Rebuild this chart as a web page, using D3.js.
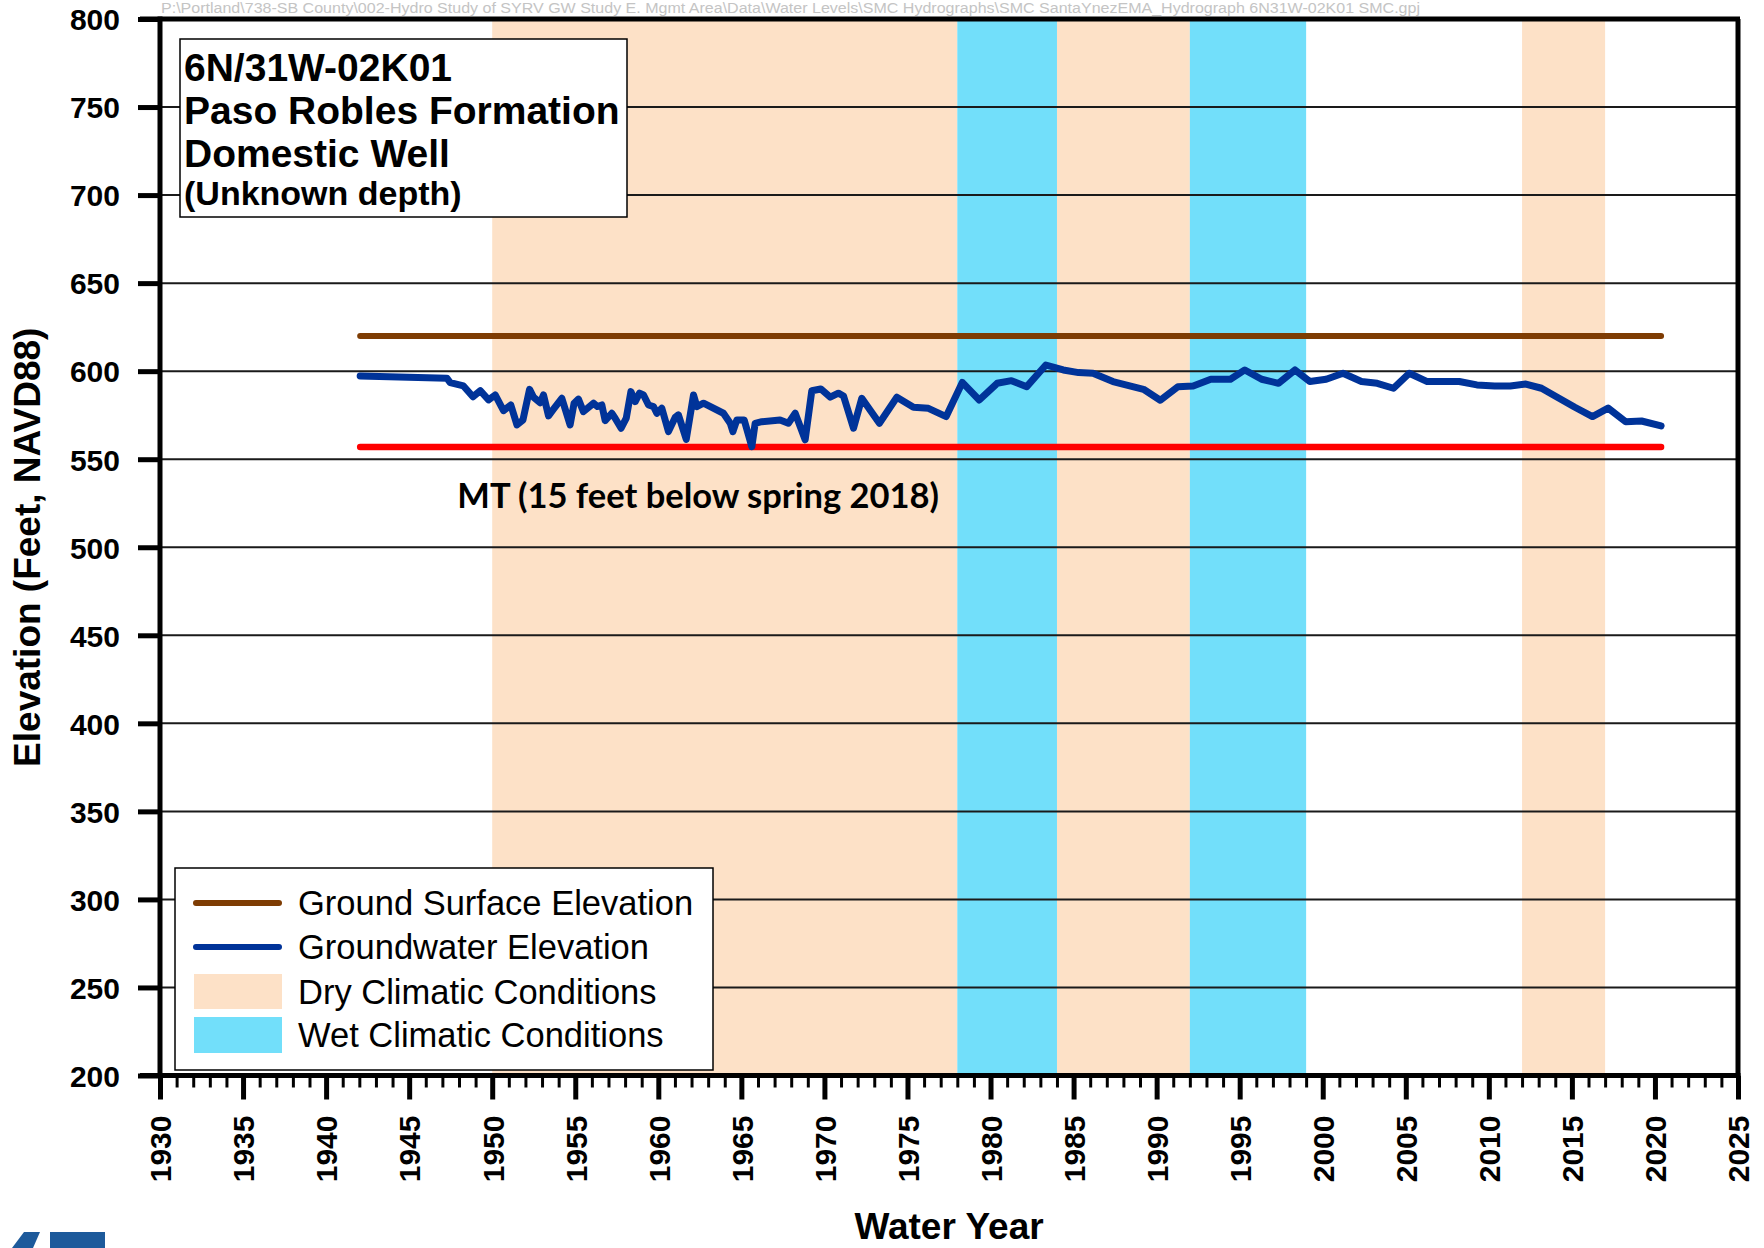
<!DOCTYPE html>
<html>
<head>
<meta charset="utf-8">
<script src="https://cdn.jsdelivr.net/npm/d3@7"></script>
<style>
  body { margin: 0; background: #fff; }
  svg { display: block; font-family: 'Liberation Sans', Arial, sans-serif; }
  .tick_lbl { font-size: 30px; font-weight: bold; fill: #000; }
  .axis_label { font-size: 37px; font-weight: bold; fill: #000; }
  .title_txt { font-weight: bold; fill: #000; }
  .legend_txt { font-size: 34.5px; fill: #000; }
</style>
</head>
<body>
<svg id="hydro"></svg>
<script>
// x/y tick values
const xMajorTicks = [1930, 1935, 1940, 1945, 1950, 1955, 1960, 1965, 1970, 1975, 1980,
                     1985, 1990, 1995, 2000, 2005, 2010, 2015, 2020, 2025];
const yTicks = [200, 250, 300, 350, 400, 450, 500, 550, 600, 650, 700, 750, 800];

// climate periods (water years)
const dryPeriods = [[1950, 1978], [1984, 1992], [2012, 2017]];
const wetPeriods = [[1978, 1984], [1992, 1999]];

// reference lines
const refYears = [1942.05, 2020.37];
const groundSurfaceElev = [620, 620];
const mtElev = [557, 557];

const gwYears = [1942.05, 1947.27, 1947.47, 1948.27, 1948.84, 1949.28, 1949.78, 1950.18, 1950.68, 1951.12,
  1951.49, 1951.85, 1952.25, 1952.49, 1952.89, 1953.09, 1953.39, 1953.69, 1954.19, 1954.69,
  1954.93, 1955.19, 1955.49, 1956.10, 1956.34, 1956.60, 1956.80, 1957.20, 1957.40, 1957.76,
  1958.07, 1958.35, 1958.61, 1958.87, 1959.11, 1959.41, 1959.71, 1959.91, 1960.21, 1960.61,
  1961.02, 1961.21, 1961.68, 1962.12, 1962.32, 1962.72, 1963.92, 1964.33, 1964.49, 1964.73,
  1965.17, 1965.63, 1965.83, 1966.23, 1967.33, 1967.83, 1968.24, 1968.84, 1969.24, 1969.78,
  1970.35, 1970.84, 1971.15, 1971.75, 1972.25, 1973.31, 1974.36, 1975.36, 1976.26, 1977.33,
  1978.30, 1979.32, 1980.40, 1981.26, 1982.18, 1983.33, 1984.38, 1985.30, 1986.17, 1987.37,
  1989.21, 1990.22, 1991.28, 1992.20, 1993.26, 1994.44, 1995.31, 1996.32, 1997.34, 1998.33,
  1999.22, 2000.21, 2001.22, 2002.33, 2003.28, 2004.26, 2005.21, 2006.29, 2008.22, 2009.28,
  2010.35, 2011.29, 2012.23, 2013.17, 2014.12, 2015.18, 2016.24, 2017.18, 2018.24, 2019.19,
  2020.37];
const gwElev = [597.3, 596.0, 593.5, 591.6, 585.5, 588.9, 583.7, 586.5, 577.6, 580.8,
  569.5, 572.3, 589.7, 585.2, 582.1, 586.5, 574.6, 578.4, 584.6, 569.5,
  581.8, 584.1, 577.0, 581.8, 579.9, 580.8, 571.9, 576.1, 573.3, 567.6,
  573.3, 588.4, 582.7, 587.5, 586.5, 580.8, 579.9, 576.1, 579.0, 565.7,
  573.8, 575.2, 561.3, 586.5, 579.9, 581.8, 576.1, 570.4, 565.7, 572.3,
  572.3, 557.1, 570.4, 571.3, 572.3, 570.4, 576.1, 561.0, 588.9, 589.9,
  585.2, 587.5, 585.9, 567.6, 584.6, 570.4, 585.2, 579.5, 578.9, 574.2,
  593.6, 583.6, 593.1, 594.6, 591.2, 603.5, 600.7, 599.2, 598.8, 594.1,
  589.7, 583.5, 591.2, 591.6, 595.4, 595.4, 600.7, 595.4, 593.1, 600.7,
  594.1, 595.4, 598.8, 594.1, 593.1, 590.3, 598.8, 594.1, 594.1, 592.2,
  591.6, 591.6, 592.7, 590.3, 585.2, 579.5, 574.2, 579.0, 571.3, 571.7,
  568.9];

const titleLines = ['6N/31W-02K01', 'Paso Robles Formation', 'Domestic Well', '(Unknown depth)'];
const legendItems = ['Ground Surface Elevation', 'Groundwater Elevation', 'Dry Climatic Conditions', 'Wet Climatic Conditions'];
const filePath = 'P:\\Portland\\738-SB County\\002-Hydro Study of SYRV GW Study E. Mgmt Area\\Data\\Water Levels\\SMC Hydrographs\\SMC SantaYnezEMA_Hydrograph 6N31W-02K01 SMC.gpj';

const colors = {
    dry: '#fde1c7',
    wet: '#72dffa',
    ground: '#7e3c03',
    gw: '#003399',
    mt: '#ff0000',
    grid: '#1a1a1a'
};

let chart = {
    width: 1764,
    height: 1248,
    padding: {left: 160, right: 26, top: 19, bottom: 172.5},
    xScale: null,
    yScale: null,

    drawBands: (svg) => {
        let x = chart.xScale, y = chart.yScale;
        let g = svg.append('g');
        g.selectAll('rect.dry')
            .data(dryPeriods)
            .join('rect')
            .attr('class', 'dry')
            .attr('x', d => x(d[0]))
            .attr('width', d => x(d[1]) - x(d[0]))
            .attr('y', y(800))
            .attr('height', y(200) - y(800))
            .attr('fill', colors.dry);
        g.selectAll('rect.wet')
            .data(wetPeriods)
            .join('rect')
            .attr('class', 'wet')
            .attr('x', d => x(d[0]))
            .attr('width', d => x(d[1]) - x(d[0]))
            .attr('y', y(800))
            .attr('height', y(200) - y(800))
            .attr('fill', colors.wet);
    },

    drawGrid: (svg) => {
        let x = chart.xScale, y = chart.yScale;
        svg.append('g')
            .selectAll('line')
            .data(yTicks.filter(d => d > 200 && d < 800))
            .join('line')
            .attr('x1', x(1930))
            .attr('x2', x(2025))
            .attr('y1', d => y(d))
            .attr('y2', d => y(d))
            .attr('stroke', colors.grid)
            .attr('stroke-width', 2);
    },

    drawLines: (svg) => {
        let x = chart.xScale, y = chart.yScale;
        let line = d3.line().x(d => x(d[0])).y(d => y(d[1]));

        svg.append('path')
            .datum(refYears.map((d, i) => [d, groundSurfaceElev[i]]))
            .attr('d', line)
            .attr('fill', 'none')
            .attr('stroke', colors.ground)
            .attr('stroke-width', 6)
            .attr('stroke-linecap', 'round');

        svg.append('path')
            .datum(refYears.map((d, i) => [d, mtElev[i]]))
            .attr('d', line)
            .attr('fill', 'none')
            .attr('stroke', colors.mt)
            .attr('stroke-width', 6.5)
            .attr('stroke-linecap', 'round');

        svg.append('path')
            .datum(gwYears.map((d, i) => [d, gwElev[i]]))
            .attr('d', line)
            .attr('fill', 'none')
            .attr('stroke', colors.gw)
            .attr('stroke-width', 7)
            .attr('stroke-linejoin', 'round')
            .attr('stroke-linecap', 'round');

        // MT label
        svg.append('text')
            .attr('x', x(1947.9))
            .attr('y', y(557) + 61)
            .attr('font-family', 'Lato, "Open Sans", sans-serif')
            .attr('font-weight', 'bold')
            .attr('font-size', 34.5)
            .text('MT (15 feet below spring 2018)');
    },

    drawAxis: (svg) => {
        let x = chart.xScale, y = chart.yScale;

        // frame top + right
        svg.append('line')
            .attr('x1', x(1930) - 20).attr('x2', x(2025) + 2)
            .attr('y1', y(800)).attr('y2', y(800))
            .attr('stroke', '#000').attr('stroke-width', 5);
        svg.append('line')
            .attr('x1', x(2025)).attr('x2', x(2025))
            .attr('y1', y(800)).attr('y2', y(200))
            .attr('stroke', '#000').attr('stroke-width', 5);

        // y axis
        let axis_y = d3.axisLeft(y)
            .tickValues(yTicks)
            .tickSize(20)
            .tickPadding(20)
            .tickFormat(d => d);
        let gy = svg.append('g')
            .attr('transform', `translate(${x(1930)}, 0)`)
            .call(axis_y);
        gy.select('.domain').remove();
        gy.selectAll('.tick line').attr('stroke', '#000').attr('stroke-width', 5).attr('x2', -22).attr('x1', 2);
        gy.selectAll('.tick text').attr('class', 'tick_lbl').attr('dy', '0.36em');
        gy.append('line')
            .attr('x1', 0).attr('x2', 0)
            .attr('y1', y(800) - 2.5).attr('y2', y(200) + 2.5)
            .attr('stroke', '#000').attr('stroke-width', 5);

        // x axis minor ticks
        let axis_x_minor = d3.axisBottom(x)
            .tickValues(d3.range(1930, 2026))
            .tickSize(12)
            .tickFormat('');
        let gxm = svg.append('g')
            .attr('transform', `translate(0, ${y(200)})`)
            .call(axis_x_minor);
        gxm.select('.domain').remove();
        gxm.selectAll('.tick line').attr('stroke', '#000').attr('stroke-width', 3);

        // x axis major ticks
        let axis_x = d3.axisBottom(x)
            .tickValues(xMajorTicks)
            .tickSize(24)
            .tickFormat(d => d);
        let gx = svg.append('g')
            .attr('transform', `translate(0, ${y(200)})`)
            .call(axis_x);
        gx.select('.domain').remove();
        gx.selectAll('.tick line').attr('stroke', '#000').attr('stroke-width', 5);
        gx.selectAll('.tick text')
            .attr('class', 'tick_lbl')
            .attr('transform', 'rotate(-90)')
            .attr('text-anchor', 'end')
            .attr('x', -40)
            .attr('y', 0)
            .attr('dy', '0.36em');
        gx.append('line')
            .attr('x1', x(1930) - 20).attr('x2', x(2025) + 2.5)
            .attr('y1', 0).attr('y2', 0)
            .attr('stroke', '#000').attr('stroke-width', 5);

        // axis titles
        svg.append('text')
            .attr('class', 'axis_label')
            .attr('text-anchor', 'middle')
            .attr('x', (x(1930) + x(2025)) / 2)
            .attr('y', 1239)
            .text('Water Year');
        svg.append('text')
            .attr('class', 'axis_label')
            .attr('text-anchor', 'middle')
            .attr('transform', `translate(40, ${(y(800) + y(200)) / 2}) rotate(-90)`)
            .text('Elevation (Feet, NAVD88)');
    },

    drawTitle: (svg) => {
        let g = svg.append('g');
        g.append('rect')
            .attr('x', 180).attr('y', 39)
            .attr('width', 447).attr('height', 178)
            .attr('fill', '#fff').attr('stroke', '#000').attr('stroke-width', 1.5);
        let baselines = [81, 124, 167, 205];
        let sizes = [39, 39, 39, 34];
        g.selectAll('text')
            .data(titleLines)
            .join('text')
            .attr('class', 'title_txt')
            .attr('x', 184)
            .attr('y', (d, i) => baselines[i])
            .attr('font-size', (d, i) => sizes[i])
            .text(d => d);
    },

    drawLegend: (svg) => {
        let g = svg.append('g');
        g.append('rect')
            .attr('x', 175).attr('y', 868)
            .attr('width', 538).attr('height', 202)
            .attr('fill', '#fff').attr('stroke', '#000').attr('stroke-width', 1.5);
        let rows = [903, 947, 991.5, 1035];
        // line symbols
        g.append('line')
            .attr('x1', 196).attr('x2', 279).attr('y1', rows[0]).attr('y2', rows[0])
            .attr('stroke', colors.ground).attr('stroke-width', 6).attr('stroke-linecap', 'round');
        g.append('line')
            .attr('x1', 196).attr('x2', 279).attr('y1', rows[1]).attr('y2', rows[1])
            .attr('stroke', colors.gw).attr('stroke-width', 6).attr('stroke-linecap', 'round');
        // swatches
        g.append('rect')
            .attr('x', 194).attr('y', rows[2] - 17.5).attr('width', 88).attr('height', 35)
            .attr('fill', colors.dry);
        g.append('rect')
            .attr('x', 194).attr('y', rows[3] - 18).attr('width', 88).attr('height', 36)
            .attr('fill', colors.wet);
        g.selectAll('text')
            .data(legendItems)
            .join('text')
            .attr('class', 'legend_txt')
            .attr('x', 298)
            .attr('y', (d, i) => rows[i])
            .attr('dy', '0.36em')
            .text(d => d);
    },

    drawExtras: (svg) => {
        // file path stamp
        svg.append('text')
            .attr('x', 161)
            .attr('y', 13)
            .attr('font-size', 14)
            .attr('fill', '#c4c4c4')
            .attr('textLength', 1259)
            .attr('lengthAdjust', 'spacingAndGlyphs')
            .text(filePath);
        // logo fragment at bottom left
        svg.append('polygon')
            .attr('points', '12,1248 24,1232 40,1232 33,1248')
            .attr('fill', '#1d5a9b');
        svg.append('rect')
            .attr('x', 50).attr('y', 1232).attr('width', 55).attr('height', 16)
            .attr('fill', '#1d5a9b');
    },

    drawMain: () => {
        let svg = d3.select('#hydro')
            .attr('width', chart.width)
            .attr('height', chart.height);

        chart.xScale = d3.scaleLinear()
            .domain([1930, 2025])
            .range([chart.padding.left, chart.width - chart.padding.right]);
        chart.yScale = d3.scaleLinear()
            .domain([200, 800])
            .range([chart.height - chart.padding.bottom, chart.padding.top]);

        chart.drawBands(svg);
        chart.drawGrid(svg);
        chart.drawLines(svg);
        chart.drawTitle(svg);
        chart.drawLegend(svg);
        chart.drawAxis(svg);
        chart.drawExtras(svg);
    }
};

chart.drawMain();
</script>
</body>
</html>
